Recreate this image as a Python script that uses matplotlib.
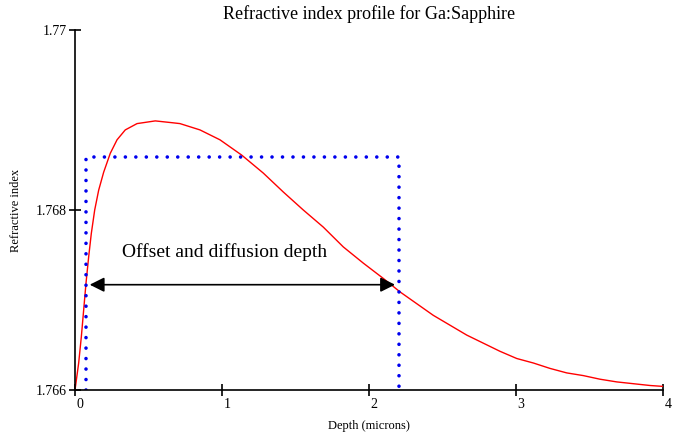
import numpy as np
import matplotlib.pyplot as plt
import matplotlib.transforms as mtransforms

plt.rcParams['font.family'] = ['Liberation Serif', 'DejaVu Serif']

# refractive index profile
depth = [0.0, 0.025, 0.043, 0.059, 0.075, 0.093, 0.111, 0.134, 0.161, 0.195,
         0.240, 0.286, 0.342, 0.422, 0.546, 0.660, 0.714, 0.850, 0.986, 1.134,
         1.281, 1.417, 1.553, 1.689, 1.825, 1.961, 2.097, 2.211, 2.324, 2.437,
         2.551, 2.665, 2.778, 2.891, 3.005, 3.118, 3.231, 3.345, 3.458, 3.571,
         3.685, 3.798, 3.912, 4.0]
index = [1.76600, 1.76630, 1.76659, 1.76689, 1.76719, 1.76748, 1.76774, 1.76800,
         1.76822, 1.76842, 1.76863, 1.76878, 1.76889, 1.76896, 1.76899, 1.76897,
         1.76896, 1.76889, 1.76878, 1.76861, 1.76841, 1.76820, 1.76800, 1.76781,
         1.76759, 1.76741, 1.76724, 1.76709, 1.76696, 1.76683, 1.76672, 1.76661,
         1.76652, 1.76643, 1.76635, 1.76630, 1.76624, 1.76619, 1.76616, 1.76612,
         1.76609, 1.76607, 1.76605, 1.76604]

# step-index equivalent (offset, diffusion depth, step index)
step_x = [0.075, 0.075, 2.204, 2.204]
step_y = [1.766, 1.76859, 1.76859, 1.766]

arrow_x = [0.10, 2.177]
arrow_y = 1.76717

xticks = [0, 1, 2, 3, 4]
yticks = [1.766, 1.768, 1.77]
ytick_labels = ["1.766", "1.768", "1.77"]

fig = plt.figure(figsize=(6.82, 4.36), dpi=100)
ax = fig.add_axes([75 / 682, 46 / 436, 588 / 682, 360 / 436])

ax.plot(depth, index, color="red", lw=1.0)
ax.plot(step_x, step_y, color="#0000ee", lw=2.6,
        linestyle=(0, (0.001, 2.9)), dash_capstyle="round")

ax.annotate("", xy=(arrow_x[1], arrow_y), xytext=(arrow_x[0], arrow_y),
            arrowprops=dict(arrowstyle="<|-|>", color="black", lw=1.2,
                            mutation_scale=22, shrinkA=0, shrinkB=0))
ax.text(0.32, 1.76748, "Offset and diffusion depth", fontsize=14,
        ha="left", va="baseline")

ax.set_xlim(0, 4)
ax.set_ylim(1.766, 1.77)
ax.set_xticks(xticks)
ax.set_xticklabels([str(t) for t in xticks], fontsize=10)
ax.set_yticks(yticks)
ax.set_yticklabels(ytick_labels, fontsize=10)

for side in ["top", "right"]:
    ax.spines[side].set_visible(False)
for side in ["left", "bottom"]:
    ax.spines[side].set_linewidth(1.2)
ax.tick_params(direction="inout", length=8, width=1.2, pad=2)

offset = mtransforms.ScaledTranslation(5 / 100, 0, fig.dpi_scale_trans)
for lab in ax.get_xticklabels():
    lab.set_transform(lab.get_transform() + offset)

ax.set_title("Refractive index profile for Ga:Sapphire", fontsize=13, pad=8)
ax.set_xlabel("Depth (microns)", fontsize=9, labelpad=6)
ax.set_ylabel("Refractive index", fontsize=9, labelpad=10)

fig.savefig("out.png", dpi=100)
